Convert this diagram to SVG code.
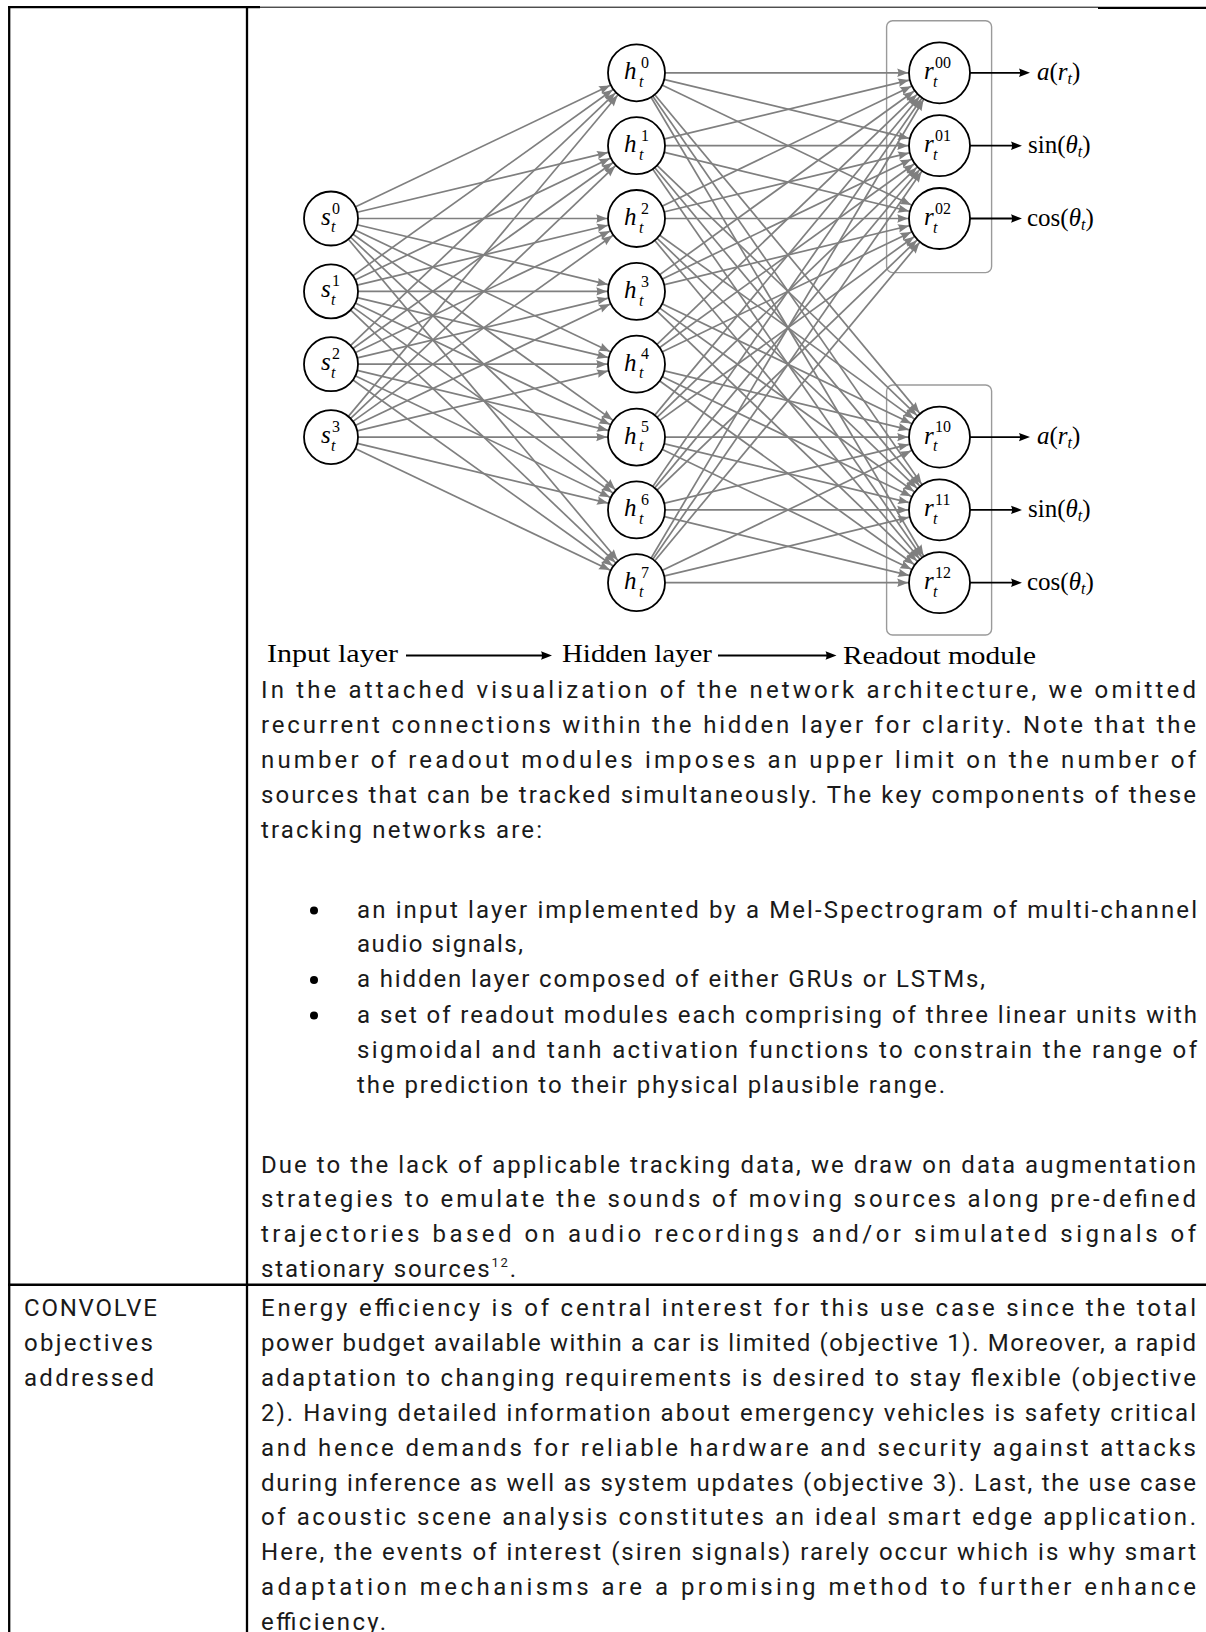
<svg xmlns="http://www.w3.org/2000/svg" width="1206" height="1632" viewBox="0 0 1206 1632">
  <style>
    .rule { stroke: #000; fill: none; }
    .e { stroke: #7f7f7f; stroke-width: 1.7; fill: none; }
    .eh { marker-end: url(#ahH); }
    .er { marker-end: url(#ahR); }
    .k { stroke: #000; stroke-width: 1.8; fill: none; marker-end: url(#ahK); }
    .node { fill: #fff; stroke: #000; stroke-width: 1.8; }
    .box { fill: none; stroke: #9a9a9a; stroke-width: 1.4; }
    .mi { font-family: "Liberation Serif", serif; font-style: italic; font-size: 25px; fill: #000; }
    .sc { font-family: "Liberation Serif", serif; font-size: 16px; fill: #000; }
    .sci { font-family: "Liberation Serif", serif; font-style: italic; font-size: 16px; fill: #000; }
    .out { font-family: "Liberation Serif", serif; font-size: 25px; fill: #000; }
    .cap { font-family: "Liberation Serif", serif; font-size: 26px; fill: #000; }
    .body { font-family: Roboto, "Liberation Sans", sans-serif; font-size: 24px; fill: #1a1a1a; }
  </style>
  <defs>
    <marker id="ahH" markerUnits="userSpaceOnUse" markerWidth="12" markerHeight="10" refX="29.3" refY="0" orient="auto" style="overflow:visible">
      <path d="M0,0 L-11,-4.2 Q-8.8,0 -11,4.2 Z" fill="#7f7f7f"/>
    </marker>
    <marker id="ahR" markerUnits="userSpaceOnUse" markerWidth="12" markerHeight="10" refX="31.3" refY="0" orient="auto" style="overflow:visible">
      <path d="M0,0 L-11,-4.2 Q-8.8,0 -11,4.2 Z" fill="#7f7f7f"/>
    </marker>
    <marker id="ahK" markerUnits="userSpaceOnUse" markerWidth="12" markerHeight="10" refX="-4" refY="0" orient="auto" style="overflow:visible">
      <path d="M4,0 L-7,-4.2 Q-4.8,0 -7,4.2 Z" fill="#000"/>
    </marker>
  </defs>

  <!-- table rules -->
  <g id="table">
    <line class="rule" x1="8" y1="7.2" x2="260" y2="7.2" stroke-width="2.3"/>
    <line class="rule" x1="260" y1="7.2" x2="1098" y2="7.2" stroke-width="1"/>
    <line class="rule" x1="1098" y1="7.8" x2="1206" y2="7.8" stroke-width="2.3"/>
    <line class="rule" x1="9.2" y1="6" x2="9.2" y2="1632" stroke-width="2.3"/>
    <line class="rule" x1="247" y1="6" x2="247" y2="1632" stroke-width="2.3"/>
    <line class="rule" x1="8" y1="1284.7" x2="1206" y2="1284.7" stroke-width="2.4"/>
  </g>

  <!-- readout module frames -->
  <g id="readout-frames">
    <rect class="box" x="886.6" y="20.8" width="105" height="251.8" rx="6"/>
    <rect class="box" x="886.6" y="385" width="105" height="250" rx="6"/>
  </g>

  <!-- weighted connections -->
  <g id="connectors">
    <g class="e eh">
      <line x1="331" y1="218.5" x2="636.5" y2="72.8"/>
      <line x1="331" y1="218.5" x2="636.5" y2="145.7"/>
      <line x1="331" y1="218.5" x2="636.5" y2="218.5"/>
      <line x1="331" y1="218.5" x2="636.5" y2="291.4"/>
      <line x1="331" y1="218.5" x2="636.5" y2="364.2"/>
      <line x1="331" y1="218.5" x2="636.5" y2="437.1"/>
      <line x1="331" y1="218.5" x2="636.5" y2="509.9"/>
      <line x1="331" y1="218.5" x2="636.5" y2="582.7"/>
      <line x1="331" y1="291.4" x2="636.5" y2="72.8"/>
      <line x1="331" y1="291.4" x2="636.5" y2="145.7"/>
      <line x1="331" y1="291.4" x2="636.5" y2="218.5"/>
      <line x1="331" y1="291.4" x2="636.5" y2="291.4"/>
      <line x1="331" y1="291.4" x2="636.5" y2="364.2"/>
      <line x1="331" y1="291.4" x2="636.5" y2="437.1"/>
      <line x1="331" y1="291.4" x2="636.5" y2="509.9"/>
      <line x1="331" y1="291.4" x2="636.5" y2="582.7"/>
      <line x1="331" y1="364.2" x2="636.5" y2="72.8"/>
      <line x1="331" y1="364.2" x2="636.5" y2="145.7"/>
      <line x1="331" y1="364.2" x2="636.5" y2="218.5"/>
      <line x1="331" y1="364.2" x2="636.5" y2="291.4"/>
      <line x1="331" y1="364.2" x2="636.5" y2="364.2"/>
      <line x1="331" y1="364.2" x2="636.5" y2="437.1"/>
      <line x1="331" y1="364.2" x2="636.5" y2="509.9"/>
      <line x1="331" y1="364.2" x2="636.5" y2="582.7"/>
      <line x1="331" y1="437.1" x2="636.5" y2="72.8"/>
      <line x1="331" y1="437.1" x2="636.5" y2="145.7"/>
      <line x1="331" y1="437.1" x2="636.5" y2="218.5"/>
      <line x1="331" y1="437.1" x2="636.5" y2="291.4"/>
      <line x1="331" y1="437.1" x2="636.5" y2="364.2"/>
      <line x1="331" y1="437.1" x2="636.5" y2="437.1"/>
      <line x1="331" y1="437.1" x2="636.5" y2="509.9"/>
      <line x1="331" y1="437.1" x2="636.5" y2="582.7"/>
    </g>
    <g class="e er">
      <line x1="636.5" y1="72.8" x2="939.5" y2="72.8"/>
      <line x1="636.5" y1="72.8" x2="939.5" y2="145.7"/>
      <line x1="636.5" y1="72.8" x2="939.5" y2="218.5"/>
      <line x1="636.5" y1="72.8" x2="939.5" y2="437.1"/>
      <line x1="636.5" y1="72.8" x2="939.5" y2="509.9"/>
      <line x1="636.5" y1="72.8" x2="939.5" y2="582.7"/>
      <line x1="636.5" y1="145.7" x2="939.5" y2="72.8"/>
      <line x1="636.5" y1="145.7" x2="939.5" y2="145.7"/>
      <line x1="636.5" y1="145.7" x2="939.5" y2="218.5"/>
      <line x1="636.5" y1="145.7" x2="939.5" y2="437.1"/>
      <line x1="636.5" y1="145.7" x2="939.5" y2="509.9"/>
      <line x1="636.5" y1="145.7" x2="939.5" y2="582.7"/>
      <line x1="636.5" y1="218.5" x2="939.5" y2="72.8"/>
      <line x1="636.5" y1="218.5" x2="939.5" y2="145.7"/>
      <line x1="636.5" y1="218.5" x2="939.5" y2="218.5"/>
      <line x1="636.5" y1="218.5" x2="939.5" y2="437.1"/>
      <line x1="636.5" y1="218.5" x2="939.5" y2="509.9"/>
      <line x1="636.5" y1="218.5" x2="939.5" y2="582.7"/>
      <line x1="636.5" y1="291.4" x2="939.5" y2="72.8"/>
      <line x1="636.5" y1="291.4" x2="939.5" y2="145.7"/>
      <line x1="636.5" y1="291.4" x2="939.5" y2="218.5"/>
      <line x1="636.5" y1="291.4" x2="939.5" y2="437.1"/>
      <line x1="636.5" y1="291.4" x2="939.5" y2="509.9"/>
      <line x1="636.5" y1="291.4" x2="939.5" y2="582.7"/>
      <line x1="636.5" y1="364.2" x2="939.5" y2="72.8"/>
      <line x1="636.5" y1="364.2" x2="939.5" y2="145.7"/>
      <line x1="636.5" y1="364.2" x2="939.5" y2="218.5"/>
      <line x1="636.5" y1="364.2" x2="939.5" y2="437.1"/>
      <line x1="636.5" y1="364.2" x2="939.5" y2="509.9"/>
      <line x1="636.5" y1="364.2" x2="939.5" y2="582.7"/>
      <line x1="636.5" y1="437.1" x2="939.5" y2="72.8"/>
      <line x1="636.5" y1="437.1" x2="939.5" y2="145.7"/>
      <line x1="636.5" y1="437.1" x2="939.5" y2="218.5"/>
      <line x1="636.5" y1="437.1" x2="939.5" y2="437.1"/>
      <line x1="636.5" y1="437.1" x2="939.5" y2="509.9"/>
      <line x1="636.5" y1="437.1" x2="939.5" y2="582.7"/>
      <line x1="636.5" y1="509.9" x2="939.5" y2="72.8"/>
      <line x1="636.5" y1="509.9" x2="939.5" y2="145.7"/>
      <line x1="636.5" y1="509.9" x2="939.5" y2="218.5"/>
      <line x1="636.5" y1="509.9" x2="939.5" y2="437.1"/>
      <line x1="636.5" y1="509.9" x2="939.5" y2="509.9"/>
      <line x1="636.5" y1="509.9" x2="939.5" y2="582.7"/>
      <line x1="636.5" y1="582.7" x2="939.5" y2="72.8"/>
      <line x1="636.5" y1="582.7" x2="939.5" y2="145.7"/>
      <line x1="636.5" y1="582.7" x2="939.5" y2="218.5"/>
      <line x1="636.5" y1="582.7" x2="939.5" y2="437.1"/>
      <line x1="636.5" y1="582.7" x2="939.5" y2="509.9"/>
      <line x1="636.5" y1="582.7" x2="939.5" y2="582.7"/>
    </g>
    <!-- readout outputs -->
    <line class="k" x1="970" y1="72.8" x2="1022" y2="72.8"/>
    <line class="k" x1="970" y1="145.7" x2="1014" y2="145.7"/>
    <line class="k" x1="970" y1="218.5" x2="1014" y2="218.5"/>
    <line class="k" x1="970" y1="437.1" x2="1022" y2="437.1"/>
    <line class="k" x1="970" y1="509.9" x2="1014" y2="509.9"/>
    <line class="k" x1="970" y1="582.7" x2="1014" y2="582.7"/>
    <!-- layer flow -->
    <line class="k" x1="406" y1="655.5" x2="544" y2="655.5" stroke-width="2.2"/>
    <line class="k" x1="718" y1="655.5" x2="828.5" y2="655.5" stroke-width="2.2"/>
  </g>

  <!-- input layer -->
  <g id="s0"><circle class="node" cx="331" cy="218.5" r="27"/><text class="mi" x="321" y="224.5">s</text><text class="sc" x="332" y="213.5">0</text><text class="sci" x="331" y="232">t</text></g>
  <g id="s1"><circle class="node" cx="331" cy="291.4" r="27"/><text class="mi" x="321" y="297.4">s</text><text class="sc" x="332" y="286.4">1</text><text class="sci" x="331" y="304.9">t</text></g>
  <g id="s2"><circle class="node" cx="331" cy="364.2" r="27"/><text class="mi" x="321" y="370.2">s</text><text class="sc" x="332" y="359.2">2</text><text class="sci" x="331" y="377.7">t</text></g>
  <g id="s3"><circle class="node" cx="331" cy="437.1" r="27"/><text class="mi" x="321" y="443.1">s</text><text class="sc" x="332" y="432.1">3</text><text class="sci" x="331" y="450.6">t</text></g>

  <!-- hidden layer -->
  <g id="h0"><circle class="node" cx="636.5" cy="72.8" r="28.5"/><text class="mi" x="624" y="79.3">h</text><text class="sc" x="641" y="68">0</text><text class="sci" x="639" y="87">t</text></g>
  <g id="h1"><circle class="node" cx="636.5" cy="145.7" r="28.5"/><text class="mi" x="624" y="152.2">h</text><text class="sc" x="641" y="140.9">1</text><text class="sci" x="639" y="159.9">t</text></g>
  <g id="h2"><circle class="node" cx="636.5" cy="218.5" r="28.5"/><text class="mi" x="624" y="225">h</text><text class="sc" x="641" y="213.7">2</text><text class="sci" x="639" y="232.7">t</text></g>
  <g id="h3"><circle class="node" cx="636.5" cy="291.4" r="28.5"/><text class="mi" x="624" y="297.9">h</text><text class="sc" x="641" y="286.6">3</text><text class="sci" x="639" y="305.6">t</text></g>
  <g id="h4"><circle class="node" cx="636.5" cy="364.2" r="28.5"/><text class="mi" x="624" y="370.7">h</text><text class="sc" x="641" y="359.4">4</text><text class="sci" x="639" y="378.4">t</text></g>
  <g id="h5"><circle class="node" cx="636.5" cy="437.1" r="28.5"/><text class="mi" x="624" y="443.6">h</text><text class="sc" x="641" y="432.3">5</text><text class="sci" x="639" y="451.3">t</text></g>
  <g id="h6"><circle class="node" cx="636.5" cy="509.9" r="28.5"/><text class="mi" x="624" y="516.4">h</text><text class="sc" x="641" y="505.1">6</text><text class="sci" x="639" y="524.1">t</text></g>
  <g id="h7"><circle class="node" cx="636.5" cy="582.7" r="28.5"/><text class="mi" x="624" y="589.2">h</text><text class="sc" x="641" y="577.9">7</text><text class="sci" x="639" y="596.9">t</text></g>

  <!-- readout module 0 -->
  <g id="r00"><circle class="node" cx="939.5" cy="72.8" r="30.5"/><text class="mi" x="924" y="79.3">r</text><text class="sc" x="935" y="68">00</text><text class="sci" x="933" y="87">t</text></g>
  <g id="r01"><circle class="node" cx="939.5" cy="145.7" r="30.5"/><text class="mi" x="924" y="152.2">r</text><text class="sc" x="935" y="140.9">01</text><text class="sci" x="933" y="159.9">t</text></g>
  <g id="r02"><circle class="node" cx="939.5" cy="218.5" r="30.5"/><text class="mi" x="924" y="225">r</text><text class="sc" x="935" y="213.7">02</text><text class="sci" x="933" y="232.7">t</text></g>
  <!-- readout module 1 -->
  <g id="r10"><circle class="node" cx="939.5" cy="437.1" r="30.5"/><text class="mi" x="924" y="443.6">r</text><text class="sc" x="935" y="432.3">10</text><text class="sci" x="933" y="451.3">t</text></g>
  <g id="r11"><circle class="node" cx="939.5" cy="509.9" r="30.5"/><text class="mi" x="924" y="516.4">r</text><text class="sc" x="935" y="505.1">11</text><text class="sci" x="933" y="524.1">t</text></g>
  <g id="r12"><circle class="node" cx="939.5" cy="582.7" r="30.5"/><text class="mi" x="924" y="589.2">r</text><text class="sc" x="935" y="577.9">12</text><text class="sci" x="933" y="596.9">t</text></g>

  <!-- readout outputs -->
  <g id="outputs">
    <text class="out" x="1037" y="79.8"><tspan font-style="italic">a</tspan>(<tspan font-style="italic">r</tspan><tspan font-size="16" font-style="italic" dy="4">t</tspan><tspan dy="-4">)</tspan></text>
    <text class="out" x="1028" y="152.7">sin(<tspan font-style="italic">θ</tspan><tspan font-size="16" font-style="italic" dy="4">t</tspan><tspan dy="-4">)</tspan></text>
    <text class="out" x="1027" y="225.5">cos(<tspan font-style="italic">θ</tspan><tspan font-size="16" font-style="italic" dy="4">t</tspan><tspan dy="-4">)</tspan></text>
    <text class="out" x="1037" y="444.1"><tspan font-style="italic">a</tspan>(<tspan font-style="italic">r</tspan><tspan font-size="16" font-style="italic" dy="4">t</tspan><tspan dy="-4">)</tspan></text>
    <text class="out" x="1028" y="516.9">sin(<tspan font-style="italic">θ</tspan><tspan font-size="16" font-style="italic" dy="4">t</tspan><tspan dy="-4">)</tspan></text>
    <text class="out" x="1027" y="589.7">cos(<tspan font-style="italic">θ</tspan><tspan font-size="16" font-style="italic" dy="4">t</tspan><tspan dy="-4">)</tspan></text>
  </g>

  <!-- layer captions -->
  <g id="captions">
    <text class="cap" x="267" y="661.5" textLength="131" lengthAdjust="spacingAndGlyphs">Input layer</text>
    <text class="cap" x="562" y="661.5" textLength="150" lengthAdjust="spacingAndGlyphs">Hidden layer</text>
    <text class="cap" x="843" y="664" textLength="193" lengthAdjust="spacingAndGlyphs">Readout module</text>
  </g>

  <!-- description column -->
  <g id="text-right" class="body">
    <text x="261" y="698" textLength="935" lengthAdjust="spacing">In the attached visualization of the network architecture, we omitted</text>
    <text x="261" y="733" textLength="935" lengthAdjust="spacing">recurrent connections within the hidden layer for clarity. Note that the</text>
    <text x="261" y="768" textLength="935" lengthAdjust="spacing">number of readout modules imposes an upper limit on the number of</text>
    <text x="261" y="803" textLength="935" lengthAdjust="spacing">sources that can be tracked simultaneously. The key components of these</text>
    <text x="261" y="838" textLength="281" lengthAdjust="spacing">tracking networks are:</text>

    <circle cx="314" cy="910.5" r="4" fill="#000"/>
    <circle cx="314" cy="980" r="4" fill="#000"/>
    <circle cx="314" cy="1015.5" r="4" fill="#000"/>
    <text x="357" y="917.5" textLength="840" lengthAdjust="spacing">an input layer implemented by a Mel-Spectrogram of multi-channel</text>
    <text x="357" y="952" textLength="166" lengthAdjust="spacing">audio signals,</text>
    <text x="357" y="987" textLength="628" lengthAdjust="spacing">a hidden layer composed of either GRUs or LSTMs,</text>
    <text x="357" y="1022.5" textLength="840" lengthAdjust="spacing">a set of readout modules each comprising of three linear units with</text>
    <text x="357" y="1058" textLength="840" lengthAdjust="spacing">sigmoidal and tanh activation functions to constrain the range of</text>
    <text x="357" y="1093" textLength="588" lengthAdjust="spacing">the prediction to their physical plausible range.</text>

    <text x="261" y="1172.5" textLength="935" lengthAdjust="spacing">Due to the lack of applicable tracking data, we draw on data augmentation</text>
    <text x="261" y="1207" textLength="935" lengthAdjust="spacing">strategies to emulate the sounds of moving sources along pre-defined</text>
    <text x="261" y="1242" textLength="935" lengthAdjust="spacing">trajectories based on audio recordings and/or simulated signals of</text>
    <text x="261" y="1276.5" textLength="255" lengthAdjust="spacing">stationary sources<tspan font-size="13" dy="-10">12</tspan><tspan dy="10">.</tspan></text>

    <text x="261" y="1316" textLength="935" lengthAdjust="spacing">Energy efficiency is of central interest for this use case since the total</text>
    <text x="261" y="1350.9" textLength="935" lengthAdjust="spacing">power budget available within a car is limited (objective 1). Moreover, a rapid</text>
    <text x="261" y="1385.8" textLength="935" lengthAdjust="spacing">adaptation to changing requirements is desired to stay flexible (objective</text>
    <text x="261" y="1420.7" textLength="935" lengthAdjust="spacing">2). Having detailed information about emergency vehicles is safety critical</text>
    <text x="261" y="1455.6" textLength="935" lengthAdjust="spacing">and hence demands for reliable hardware and security against attacks</text>
    <text x="261" y="1490.5" textLength="935" lengthAdjust="spacing">during inference as well as system updates (objective 3). Last, the use case</text>
    <text x="261" y="1525.4" textLength="935" lengthAdjust="spacing">of acoustic scene analysis constitutes an ideal smart edge application.</text>
    <text x="261" y="1560.3" textLength="935" lengthAdjust="spacing">Here, the events of interest (siren signals) rarely occur which is why smart</text>
    <text x="261" y="1595.2" textLength="935" lengthAdjust="spacing">adaptation mechanisms are a promising method to further enhance</text>
    <text x="261" y="1630.1" textLength="125" lengthAdjust="spacing">efficiency.</text>
  </g>

  <!-- heading column -->
  <g id="text-left" class="body">
    <text x="24" y="1316" textLength="133" lengthAdjust="spacing">CONVOLVE</text>
    <text x="24" y="1350.9" textLength="129" lengthAdjust="spacing">objectives</text>
    <text x="24" y="1385.8" textLength="130" lengthAdjust="spacing">addressed</text>
  </g>
</svg>
